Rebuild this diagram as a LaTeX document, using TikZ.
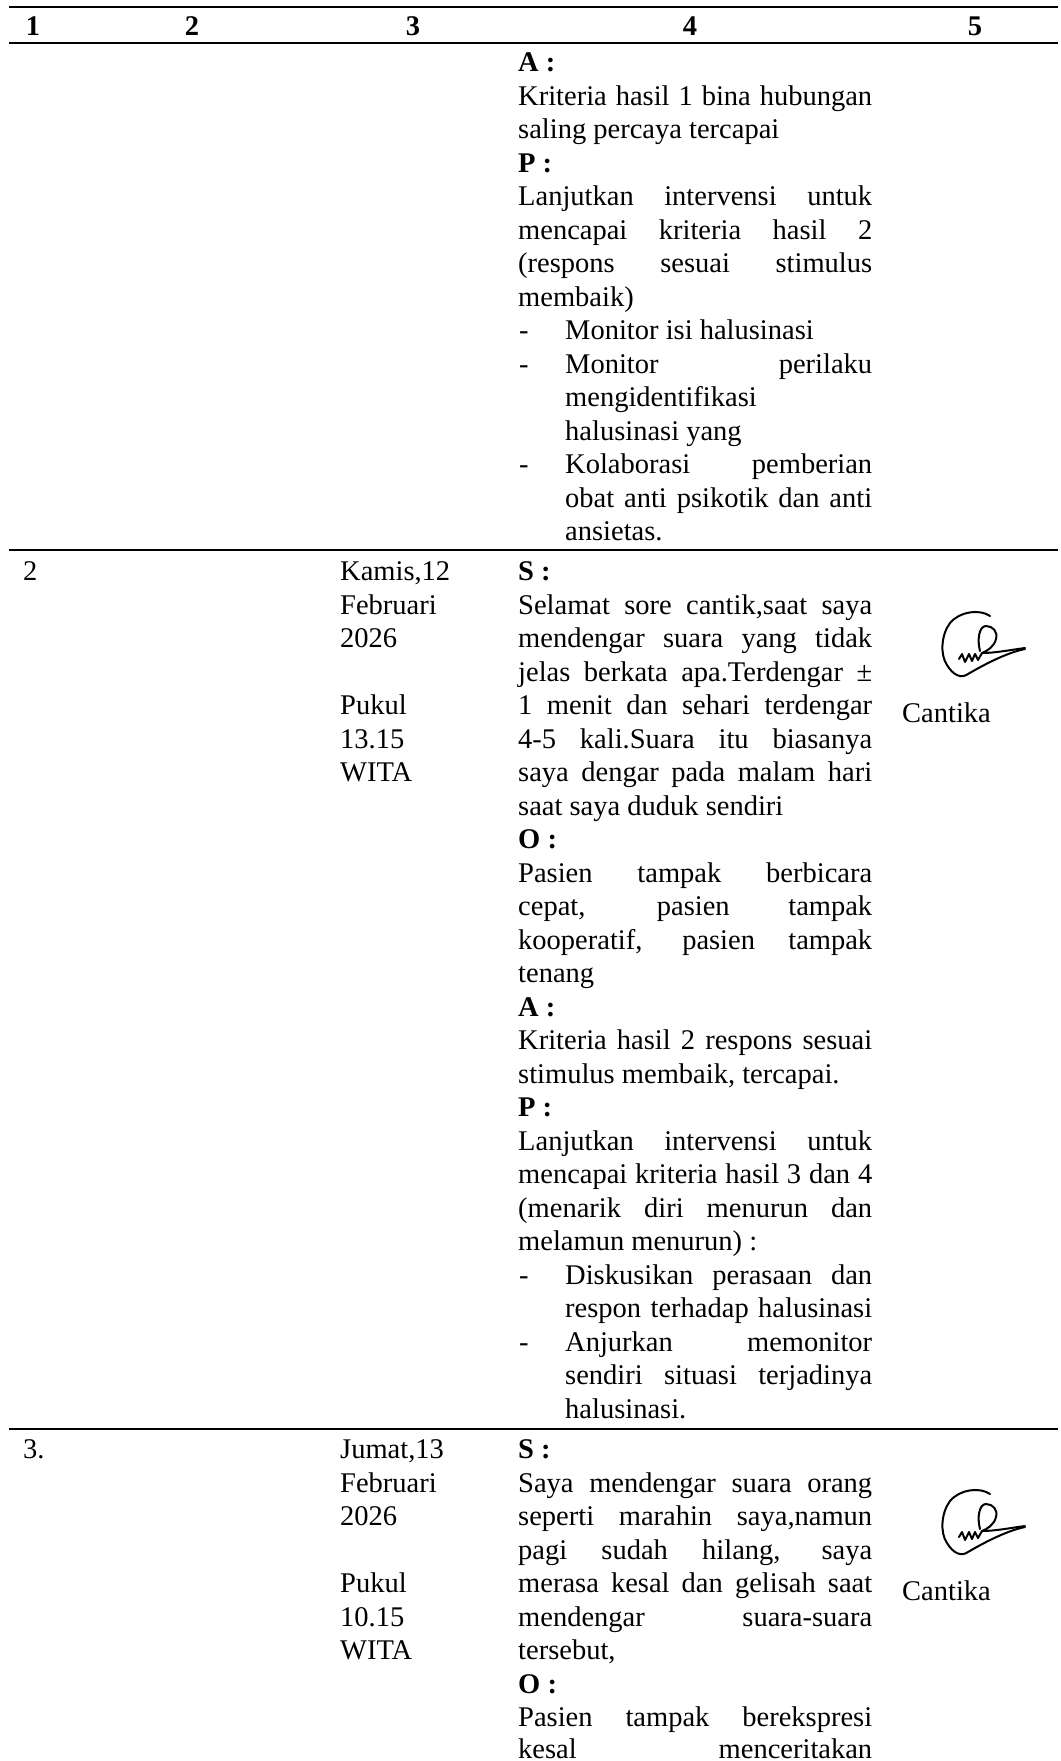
\documentclass[tikz,border=0pt]{standalone}
\usepackage{fontspec}
\setmainfont{Liberation Serif}
\newcommand{\jl}[1]{\makebox[354pt][s]{#1}}
\newcommand{\jb}[1]{\makebox[307pt][s]{#1}}
\begin{document}
\begin{tikzpicture}[x=1pt,y=-1pt,
  txt/.style={anchor=base west,inner sep=0pt,font=\fontsize{28.5}{33}\selectfont},
  hdr/.style={anchor=base,inner sep=0pt,font=\fontsize{28.5}{33}\selectfont\bfseries},
  rule/.style={line width=2.2pt},
  sig/.style={line width=2pt,line cap=round,line join=round}]
\useasboundingbox (0,0) rectangle (1060,1761);

\draw[rule] (9,7) -- (1058,7);
\node[hdr] (h1) at (33,36) {1};
\node[hdr] (h2) at (192,36) {2};
\node[hdr] (h3) at (413,36) {3};
\node[hdr] (h4) at (690,36) {4};
\node[hdr] (h5) at (975,36) {5};
\draw[rule] (9,43) -- (1058,43);

\node[txt] (r1l0) at (518,71.5) {\textbf{A :}};
\node[txt] (r1l1) at (518,105) {\jl{Kriteria hasil 1 bina hubungan}};
\node[txt] (r1l2) at (518,138.5) {saling percaya tercapai};
\node[txt] (r1l3) at (518,172) {\textbf{P :}};
\node[txt] (r1l4) at (518,205.5) {\jl{Lanjutkan intervensi untuk}};
\node[txt] (r1l5) at (518,239) {\jl{mencapai kriteria hasil 2}};
\node[txt] (r1l6) at (518,272.5) {\jl{(respons sesuai stimulus}};
\node[txt] (r1l7) at (518,306) {membaik)};
\node[txt] (r1d8) at (519,339.5) {-};
\node[txt] (r1l8) at (565,339.5) {Monitor isi halusinasi};
\node[txt] (r1d9) at (519,373) {-};
\node[txt] (r1l9) at (565,373) {\jb{Monitor perilaku}};
\node[txt] (r1l10) at (565,406.5) {mengidentifikasi};
\node[txt] (r1l11) at (565,440) {halusinasi yang};
\node[txt] (r1d12) at (519,473.5) {-};
\node[txt] (r1l12) at (565,473.5) {\jb{Kolaborasi pemberian}};
\node[txt] (r1l13) at (565,507) {\jb{obat anti psikotik dan anti}};
\node[txt] (r1l14) at (565,540.5) {ansietas.};

\draw[rule] (9,550) -- (1058,550);

\node[txt] (r2no) at (23,580.5) {2};
\node[txt] (r2c0) at (340,580.5) {Kamis,12};
\node[txt] (r2c1) at (340,614) {Februari};
\node[txt] (r2c2) at (340,647.5) {2026};
\node[txt] (r2c4) at (340,714.5) {Pukul};
\node[txt] (r2c5) at (340,748) {13.15};
\node[txt] (r2c6) at (340,781.5) {WITA};

\node[txt] (r2l0) at (518,580.5) {\textbf{S :}};
\node[txt] (r2l1) at (518,614) {\jl{Selamat sore cantik,saat saya}};
\node[txt] (r2l2) at (518,647.5) {\jl{mendengar suara yang tidak}};
\node[txt] (r2l3) at (518,681) {\jl{jelas berkata apa.Terdengar ±}};
\node[txt] (r2l4) at (518,714.5) {\jl{1 menit dan sehari terdengar}};
\node[txt] (r2l5) at (518,748) {\jl{4-5 kali.Suara itu biasanya}};
\node[txt] (r2l6) at (518,781.5) {\jl{saya dengar pada malam hari}};
\node[txt] (r2l7) at (518,815) {saat saya duduk sendiri};
\node[txt] (r2l8) at (518,848.5) {\textbf{O :}};
\node[txt] (r2l9) at (518,882) {\jl{Pasien tampak berbicara}};
\node[txt] (r2l10) at (518,915.5) {\jl{cepat, pasien tampak}};
\node[txt] (r2l11) at (518,949) {\jl{kooperatif, pasien tampak}};
\node[txt] (r2l12) at (518,982.5) {tenang};
\node[txt] (r2l13) at (518,1016) {\textbf{A :}};
\node[txt] (r2l14) at (518,1049.5) {\jl{Kriteria hasil 2 respons sesuai}};
\node[txt] (r2l15) at (518,1083) {stimulus membaik, tercapai.};
\node[txt] (r2l16) at (518,1116.5) {\textbf{P :}};
\node[txt] (r2l17) at (518,1150) {\jl{Lanjutkan intervensi untuk}};
\node[txt] (r2l18) at (518,1183.5) {\jl{mencapai kriteria hasil 3 dan 4}};
\node[txt] (r2l19) at (518,1217) {\jl{(menarik diri menurun dan}};
\node[txt] (r2l20) at (518,1250.5) {melamun menurun) :};
\node[txt] (r2d21) at (519,1284) {-};
\node[txt] (r2l21) at (565,1284) {\jb{Diskusikan perasaan dan}};
\node[txt] (r2l22) at (565,1317.5) {\jb{respon terhadap halusinasi}};
\node[txt] (r2d23) at (519,1351) {-};
\node[txt] (r2l23) at (565,1351) {\jb{Anjurkan memonitor}};
\node[txt] (r2l24) at (565,1384.5) {\jb{sendiri situasi terjadinya}};
\node[txt] (r2l25) at (565,1418) {halusinasi.};

\draw[sig,shift={(985,645)}] (5,-29) .. controls (-5,-36) and (-25,-34) .. (-35,-22) .. controls (-44,-10) and (-45,10) .. (-38,20) .. controls (-32,30) and (-24,34) .. (-17,29) .. controls (-5,22) and (20,8) .. (40,4);
\draw[sig,shift={(985,645)}] (-5,6) .. controls (-8,-5) and (-6,-19) .. (1,-19) .. controls (8,-19) and (13,-13) .. (11,-6) .. controls (9,2) and (2,6) .. (-3,8) .. controls (10,8) and (25,5) .. (40,3);
\draw[sig,shift={(985,645)}] (-26,14) -- (-23,9) -- (-20,17) -- (-16,9) -- (-13,16) -- (-10,9) -- (-7,15) -- (-3,8);
\node[txt] (r2nm) at (902,722) {Cantika};

\draw[rule] (9,1429) -- (1058,1429);

\node[txt] (r3no) at (23,1458.5) {3.};
\node[txt] (r3c0) at (340,1458.5) {Jumat,13};
\node[txt] (r3c1) at (340,1492) {Februari};
\node[txt] (r3c2) at (340,1525.5) {2026};
\node[txt] (r3c4) at (340,1592.5) {Pukul};
\node[txt] (r3c5) at (340,1626) {10.15};
\node[txt] (r3c6) at (340,1659.5) {WITA};

\node[txt] (r3l0) at (518,1458.5) {\textbf{S :}};
\node[txt] (r3l1) at (518,1492) {\jl{Saya mendengar suara orang}};
\node[txt] (r3l2) at (518,1525.5) {\jl{seperti marahin saya,namun}};
\node[txt] (r3l3) at (518,1559) {\jl{pagi sudah hilang, saya}};
\node[txt] (r3l4) at (518,1592.5) {\jl{merasa kesal dan gelisah saat}};
\node[txt] (r3l5) at (518,1626) {\jl{mendengar suara-suara}};
\node[txt] (r3l6) at (518,1659.5) {tersebut,};
\node[txt] (r3l7) at (518,1693) {\textbf{O :}};
\node[txt] (r3l8) at (518,1726) {\jl{Pasien tampak berekspresi}};
\node[txt] (r3l9) at (518,1758) {\jl{kesal menceritakan}};

\draw[sig,shift={(985,1523)}] (5,-29) .. controls (-5,-36) and (-25,-34) .. (-35,-22) .. controls (-44,-10) and (-45,10) .. (-38,20) .. controls (-32,30) and (-24,34) .. (-17,29) .. controls (-5,22) and (20,8) .. (40,4);
\draw[sig,shift={(985,1523)}] (-5,6) .. controls (-8,-5) and (-6,-19) .. (1,-19) .. controls (8,-19) and (13,-13) .. (11,-6) .. controls (9,2) and (2,6) .. (-3,8) .. controls (10,8) and (25,5) .. (40,3);
\draw[sig,shift={(985,1523)}] (-26,14) -- (-23,9) -- (-20,17) -- (-16,9) -- (-13,16) -- (-10,9) -- (-7,15) -- (-3,8);
\node[txt] (r3nm) at (902,1600) {Cantika};
\end{tikzpicture}
\end{document}
